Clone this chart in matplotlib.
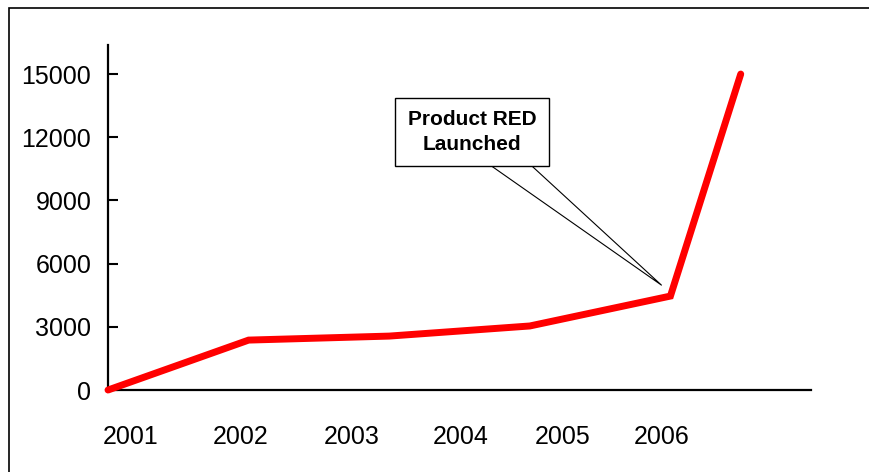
import matplotlib
matplotlib.use("Agg")
import matplotlib.pyplot as plt
from matplotlib.patches import Rectangle

plt.rcParams["font.family"] = ["Liberation Sans", "DejaVu Sans"]

# data
period = [0, 1, 2, 3, 4, 4.5]
sales = [0, 2370, 2560, 3040, 4460, 15000]
year_labels = ["2001", "2002", "2003", "2004", "2005", "2006"]
year_pos = [0.16, 0.94, 1.73, 2.51, 3.23, 3.94]
y_ticks = [0, 3000, 6000, 9000, 12000, 15000]

fig = plt.figure(figsize=(8.69, 4.72), dpi=100)
ax = fig.add_axes([0.1243, 0.1737, 0.809, 0.731])

ax.plot(period, sales, color="#ff0000", lw=5, solid_capstyle="round",
        solid_joinstyle="miter", clip_on=False, zorder=3)

ax.set_xlim(0, 5)
ax.set_ylim(0, 16380)
ax.set_yticks(y_ticks)
ax.set_yticklabels([str(v) for v in y_ticks], fontsize=18)
ax.set_xticks(year_pos)
ax.set_xticklabels(year_labels, fontsize=18)
ax.tick_params(axis="x", length=0, pad=25)
ax.tick_params(axis="y", direction="in", length=7, width=1.5, pad=12)

for s in ["top", "right"]:
    ax.spines[s].set_visible(False)
for s in ["left", "bottom"]:
    ax.spines[s].set_linewidth(1.6)

ax.annotate("Product RED\nLaunched", xy=(3.936, 4980), xytext=(2.59, 12250),
            ha="center", va="center", fontsize=15, fontweight="bold",
            linespacing=1.35,
            bbox=dict(boxstyle="square,pad=0.6", fc="white", ec="black", lw=1),
            arrowprops=dict(arrowstyle="wedge,tail_width=1.0,shrink_factor=0.5",
                            fc="white", ec="black", lw=0.8, relpos=(0.7, 0.0),
                            patchA=None, shrinkA=0, shrinkB=0,
                            mutation_scale=20),
            zorder=5)

# outer frame (clipped by the image edges on the right and bottom)
fig.patches.append(Rectangle((8.5 / 869, -0.1), 1.2, 1.1 - 8.0 / 472,
                             transform=fig.transFigure, fill=False,
                             ec="black", lw=1.2))

fig.savefig("out.png", dpi=100)
